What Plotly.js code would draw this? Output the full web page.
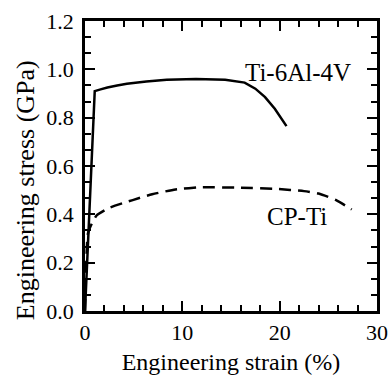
<!DOCTYPE html>
<html>
<head>
<meta charset="utf-8">
<script src="https://cdn.plot.ly/plotly-3.0.1.min.js"></script>
<style>html,body{margin:0;padding:0;background:#fff;}#chart{width:388px;height:381px;}</style>
</head>
<body>
<div id="chart"></div>
<script>
const tiStrain = [0, 1.0, 1.6, 2.3, 3.3, 4.3, 6.3, 8.4, 11.4, 14.4, 16.4, 17.5, 18.5, 19.5, 20.7];
const tiStress = [0, 0.91, 0.917, 0.925, 0.933, 0.94, 0.95, 0.957, 0.96, 0.957, 0.945, 0.92, 0.885, 0.837, 0.765];
const cpStrain = [0, 0.3, 0.7, 1.2, 2.5, 4.9, 6.9, 9.3, 12, 16, 19.7, 22.5, 24, 25.8, 27.4];
const cpStress = [0, 0.32, 0.362, 0.396, 0.427, 0.459, 0.483, 0.503, 0.512, 0.51, 0.505, 0.496, 0.486, 0.459, 0.42];
const labels = ["Ti-6Al-4V", "CP-Ti"];
const labelX = [21.9, 21.8];
const labelY = [0.985, 0.39];
const xTitle = 'Engineering strain (%)';
const yTitle = 'Engineering stress (GPa)';
const xRange = [0, 30];
const yRange = [0, 1.2];

const FONT = "Liberation Serif";
const traces = [
  {x: tiStrain, y: tiStress, mode: 'lines', line: {color: 'black', width: 2.5, shape: 'linear'}, name: labels[0]},
  {x: cpStrain, y: cpStress, mode: 'lines', line: {color: 'black', width: 2.5, dash: '12px,7px', shape: 'spline', smoothing: 0.5}, name: labels[1]},
  // invisible trace so the mirrored top/right tick axes are drawn
  {x: tiStrain, y: tiStress, xaxis: 'x2', yaxis: 'y2', mode: 'lines', opacity: 0, hoverinfo: 'skip', line: {width: 0}, name: ''}
];
function ax(extra) {
  return Object.assign({
    showgrid: false, zeroline: false, showline: true, linecolor: 'black', linewidth: 2.5,
    mirror: true, ticks: 'inside', ticklen: 10, tickwidth: 2, tickcolor: 'black',
    tickfont: {family: FONT, size: 22, color: 'black'}
  }, extra);
}
const xMinor = {dtick: 2, tick0: 0, ticklen: 6, tickwidth: 2, tickcolor: 'black', ticks: 'inside'};
const yMinor = {dtick: 0.2 / 3, tick0: 0, ticklen: 6, tickwidth: 2, tickcolor: 'black', ticks: 'inside'};
const layout = {
  width: 388, height: 381,
  font: {family: FONT, color: 'black', size: 22},
  margin: {l: 85, r: 11, t: 21, b: 70},
  paper_bgcolor: 'white', plot_bgcolor: 'white',
  showlegend: false,
  xaxis: ax({
    range: xRange, dtick: 10, tick0: 0, minor: xMinor, ticklabeloverflow: 'allow',
    title: {text: xTitle, font: {family: FONT, size: 24, color: 'black'}, standoff: 10}
  }),
  xaxis2: ax({
    range: xRange, dtick: 10, tick0: 0, minor: xMinor, overlaying: 'x', side: 'top',
    anchor: 'y2', showticklabels: false
  }),
  yaxis: ax({
    range: yRange, dtick: 0.2, tick0: 0, tickformat: '.1f', minor: yMinor, ticklabelstandoff: 4
  }),
  yaxis2: ax({
    range: yRange, dtick: 0.2, tick0: 0, minor: yMinor, overlaying: 'y', side: 'right',
    anchor: 'x2', showticklabels: false
  }),
  annotations: labels.map((t, i) => ({
    text: t, x: labelX[i], y: labelY[i], xref: 'x', yref: 'y', showarrow: false,
    font: {family: FONT, size: 25, color: 'black'}
  })).concat([{
    text: yTitle, textangle: -90, x: -0.205, y: 0.417, xref: 'paper', yref: 'paper',
    xanchor: 'center', yanchor: 'middle', showarrow: false,
    font: {family: FONT, size: 26, color: 'black'}
  }])
};
Plotly.newPlot('chart', traces, layout, {displayModeBar: false});
</script>
</body>
</html>
